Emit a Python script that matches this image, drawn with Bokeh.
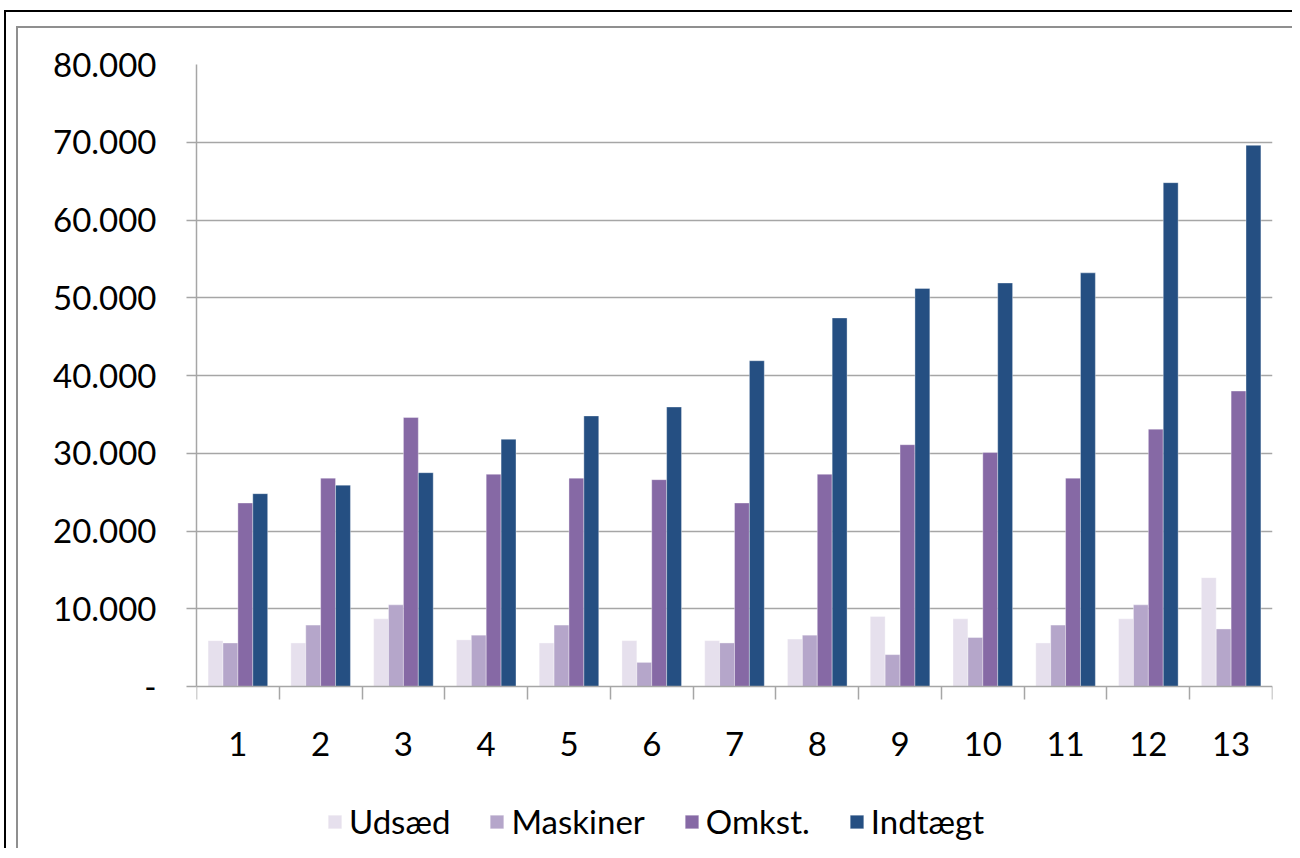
import numpy as np
from bokeh.plotting import figure
from bokeh.models import (ColumnDataSource, Range1d, FixedTicker, Legend, LegendItem)
from bokeh.transform import dodge
from bokeh.layouts import column
from bokeh.embed import file_html
from bokeh.resources import INLINE

categories = [1, 2, 3, 4, 5, 6, 7, 8, 9, 10, 11, 12, 13]
udsaed = [5900, 5600, 8700, 6000, 5600, 5900, 5900, 6100, 9000, 8700, 5600, 8700, 14000]
maskiner = [5600, 7900, 10500, 6600, 7900, 3100, 5600, 6600, 4100, 6300, 7900, 10500, 7400]
omkst = [23600, 26800, 34600, 27300, 26800, 26600, 23600, 27300, 31100, 30100, 26800, 33100, 38000]
indtaegt = [24800, 25900, 27500, 31800, 34800, 35950, 41900, 47400, 51200, 51900, 53200, 64800, 69600]
series_names = ["Udsæd", "Maskiner", "Omkst.", "Indtægt"]
y_ticks = [0, 10000, 20000, 30000, 40000, 50000, 60000, 70000, 80000]
y_tick_labels = ["-", "10.000", "20.000", "30.000", "40.000", "50.000", "60.000", "70.000", "80.000"]

colors = ["#e6e0ed", "#b5a6ca", "#8669a5", "#254f82"]
FONT = "Lato"
GRID = "#a6a6a6"

src = ColumnDataSource(dict(x=categories, udsaed=udsaed, maskiner=maskiner,
                            omkst=omkst, indtaegt=indtaegt))

# frame spans from y_top down to the bottom of the canvas; the value axis occupies
# the upper 622 px, the space below holds category labels and the legend
FRAME_H = 786
VAL_H = 622
y_start = -80000 * (FRAME_H - VAL_H) / VAL_H

W, H = 1276, 822
p = figure(width=W, height=H, output_backend="svg", toolbar_location=None,
           x_range=Range1d(0.5, 13.5), y_range=Range1d(y_start, 80000),
           min_border_left=178, min_border_right=W - 178 - 1076, min_border_top=36,
           min_border_bottom=0)
p.outline_line_color = None
p.background_fill_color = "white"
p.border_fill_color = "white"

bw = 0.18
renderers = []
for i, (col, c) in enumerate(zip(["udsaed", "maskiner", "omkst", "indtaegt"], colors)):
    off = (i - 1.5) * bw
    r = p.vbar(x=dodge("x", off, range=p.x_range), top=col, width=bw, source=src,
               fill_color=c, line_color="white", line_width=0.6, line_alpha=0.6)
    renderers.append(r)

# x axis placed at value 0
xa = p.xaxis[0]
xa.fixed_location = 0
xa.ticker = FixedTicker(ticks=categories,
                        minor_ticks=[c - 0.5 for c in categories] + [categories[-1] + 0.5])
xa.major_tick_line_color = None
xa.major_tick_out = 13
xa.major_tick_in = 0
xa.minor_tick_line_color = GRID
xa.minor_tick_line_width = 1.5
xa.minor_tick_out = 13
xa.minor_tick_in = 0
xa.axis_line_color = GRID
xa.axis_line_width = 1.5
xa.major_label_text_font = FONT
xa.major_label_text_font_size = "33px"
xa.major_label_text_color = "#000000"
xa.major_label_standoff = 32

# y axis
ya = p.yaxis[0]
ya.bounds = (0, 80000)
ya.ticker = FixedTicker(ticks=y_ticks, minor_ticks=y_ticks[:-1])
ya.major_label_overrides = {t: l for t, l in zip(y_ticks, y_tick_labels)}
ya.major_tick_line_color = None
ya.major_tick_out = 10
ya.major_tick_in = 0
ya.minor_tick_line_color = GRID
ya.minor_tick_line_width = 1.5
ya.minor_tick_out = 10
ya.minor_tick_in = 0
ya.axis_line_color = GRID
ya.axis_line_width = 1.5
ya.major_label_text_font = FONT
ya.major_label_text_font_size = "33px"
ya.major_label_text_color = "#000000"
ya.major_label_standoff = 30

p.xgrid.visible = False
p.ygrid.ticker = FixedTicker(ticks=y_ticks[1:-1])
p.ygrid.grid_line_color = GRID
p.ygrid.grid_line_width = 1.5

legend = Legend(items=[LegendItem(label=n, renderers=[r]) for n, r in zip(series_names, renderers)],
                orientation="horizontal", location=(130, 9))
legend.label_text_font = FONT
legend.label_text_font_size = "33px"
legend.label_text_color = "#000000"
legend.glyph_width = 17
legend.glyph_height = 17
legend.label_standoff = 6
legend.spacing = 38
legend.padding = 0
legend.margin = 0
legend.border_line_color = None
legend.background_fill_alpha = 0
p.add_layout(legend, "center")

p.styles = {"border-left": "2px solid #8f8f8f", "border-top": "2px solid #8f8f8f"}
outer = column(p, styles={"border-left": "2px solid #000000", "border-top": "2px solid #000000",
                          "margin-left": "4px", "margin-top": "10px",
                          "padding-left": "10px", "padding-top": "14px"})

open("out.html", "w").write(file_html(outer, INLINE))
